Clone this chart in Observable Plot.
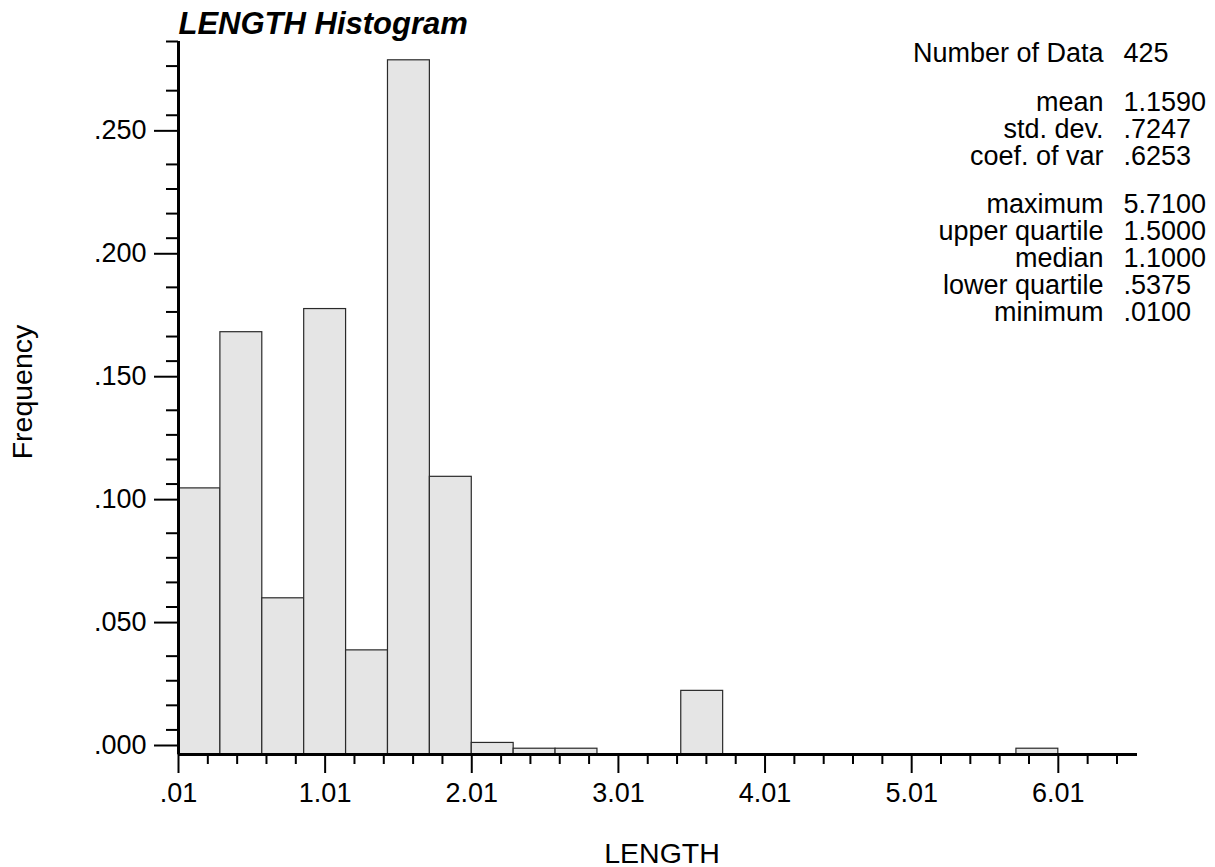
<!DOCTYPE html>
<html>
<head>
<meta charset="utf-8">
<script src="https://cdn.jsdelivr.net/npm/d3@7"></script>
<script src="https://cdn.jsdelivr.net/npm/@observablehq/plot@0.6"></script>
<style>
  body { margin: 0; background: #fff; }
  #chart svg { display: block; }
</style>
</head>
<body>
<div id="chart"></div>
<script>
// Histogram of LENGTH: bins of width 2/7 starting at .01, counts out of 425 samples
const binStart = 0.01;
const binWidth = 2 / 7;
const binCounts = [46, 73, 27, 77, 18, 120, 48, 2, 1, 1, 0, 0, 11, 0, 0, 0, 0, 0, 0, 0, 1, 0];
const nData = 425;

const xMajorTicks = [0.01, 1.01, 2.01, 3.01, 4.01, 5.01, 6.01];
const yMajorTicks = [0, 0.05, 0.10, 0.15, 0.20, 0.25];

// Summary statistics block (label, value, group)
const statLabels = ["Number of Data", "mean", "std. dev.", "coef. of var",
  "maximum", "upper quartile", "median", "lower quartile", "minimum"];
const statValues = ["425", "1.1590", ".7247", ".6253",
  "5.7100", "1.5000", "1.1000", ".5375", ".0100"];
const statGroups = [0, 1, 1, 1, 2, 2, 2, 2, 2];

const bins = binCounts.map((count, i) => ({
  x1: binStart + i * binWidth,
  x2: binStart + (i + 1) * binWidth,
  freq: count / nData
}));

// minor ticks: every .2 on x, every .01 on y
const xMinorTicks = d3.range(0, 33).filter(i => i % 5 !== 0).map(i => 0.01 + i * 0.2);
const yMinorTicks = d3.range(0, 30).filter(i => i % 5 !== 0).map(i => i / 100);

const stripZero = s => s.replace(/^0\./, ".");
const fmtX = d => stripZero(d3.format(".2f")(d));
const fmtY = d => stripZero(d3.format(".3f")(d));

const FONT = "'Liberation Sans', Arial, Helvetica, sans-serif";
const FS = 27;

// stats layout
const statTop = 20.7;      // baseline offset of first row from the frame top
const statLine = 26.8;
const statGap = 22;
const statMarks = statLabels.flatMap((label, i) => {
  const dy = statTop + i * statLine + statGroups[i] * statGap;
  return [
    Plot.text([label], {frameAnchor: "top-right", dx: -34, dy, textAnchor: "end",
      lineAnchor: "bottom", fontSize: FS, fill: "#000"}),
    Plot.text([statValues[i]], {frameAnchor: "top-right", dx: -14, dy, textAnchor: "start",
      lineAnchor: "bottom", fontSize: FS, fill: "#000"})
  ];
});

const chart = Plot.plot({
  width: 1215,
  height: 867,
  marginLeft: 178,
  marginRight: 78,
  marginTop: 41,
  marginBottom: 113,
  style: {fontFamily: FONT, fontSize: FS + "px", background: "#fff", color: "#000"},
  x: {type: "linear", domain: [0.01, 6.55]},
  y: {type: "linear", domain: [0, 0.29]},
  marks: [
    Plot.rectY(bins, {x1: "x1", x2: "x2", y: "freq", fill: "#e5e5e5", stroke: "#2a2a2a", strokeWidth: 1.2}),
    Plot.axisY({ticks: yMinorTicks, tickSize: 12, tickFormat: () => "", strokeWidth: 2, stroke: "#000", label: null}),
    Plot.axisY({ticks: yMajorTicks, tickSize: 24, tickPadding: 8, tickFormat: fmtY, fontSize: FS,
      dy: -9, strokeWidth: 2, stroke: "#000", fill: "#000", label: null}),
    Plot.axisX({ticks: xMinorTicks, tickSize: 10, tickFormat: () => "", strokeWidth: 2, stroke: "#000", label: null}),
    Plot.axisX({ticks: xMajorTicks, tickSize: 19, tickPadding: 9.5, tickFormat: fmtX, fontSize: FS,
      strokeWidth: 2, stroke: "#000", fill: "#000", label: null}),
    Plot.ruleX([0.01], {stroke: "#000", strokeWidth: 3}),
    Plot.ruleY([0], {stroke: "#000", strokeWidth: 3}),
    Plot.text(["LENGTH Histogram"], {frameAnchor: "top-left", dx: 0, dy: -8, textAnchor: "start",
      lineAnchor: "bottom", fontSize: 31, fontWeight: "bold", fontStyle: "italic", fill: "#000"}),
    Plot.text(["Frequency"], {frameAnchor: "left", dx: -156, dy: -6, rotate: -90,
      textAnchor: "middle", lineAnchor: "middle", fontSize: 28.5, fill: "#000"}),
    Plot.text(["LENGTH"], {frameAnchor: "bottom", dx: 4, dy: 108, textAnchor: "middle",
      lineAnchor: "bottom", fontSize: 28.5, fill: "#000"}),
    ...statMarks
  ]
});

document.getElementById("chart").appendChild(chart);
</script>
</body>
</html>
